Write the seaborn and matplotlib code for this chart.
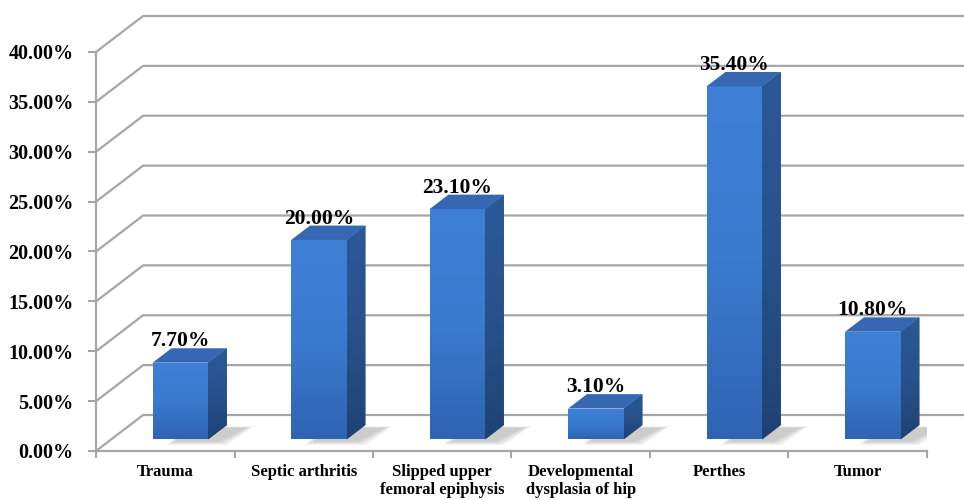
import numpy as np
import matplotlib
matplotlib.use("Agg")
import matplotlib.pyplot as plt
from matplotlib.patches import Polygon
from matplotlib.colors import LinearSegmentedColormap
import seaborn as sns

categories = ["Trauma", "Septic arthritis", "Slipped upper\nfemoral epiphysis",
              "Developmental\ndysplasia of hip", "Perthes", "Tumor"]
values = [7.7, 20.0, 23.1, 3.1, 35.4, 10.8]
value_labels = ["7.70%", "20.00%", "23.10%", "3.10%", "35.40%", "10.80%"]
y_ticks = [0, 5, 10, 15, 20, 25, 30, 35, 40]
y_tick_labels = ["0.00%", "5.00%", "10.00%", "15.00%", "20.00%",
                 "25.00%", "30.00%", "35.00%", "40.00%"]

sns.set_style("white")
plt.rcParams["font.family"] = ["Liberation Serif", "DejaVu Serif"]
plt.rcParams["text.color"] = "black"
plt.rcParams["xtick.color"] = "black"
plt.rcParams["ytick.color"] = "black"

fig = plt.figure(figsize=(9.64, 5), dpi=100)
ax = fig.add_axes([0.0996, 0.098, 0.862, 0.798])
ax.set_facecolor("none")

# fake 3D: floor depth in data units, bar sits between depth d0 and d1
DX, DY = 0.34, 3.61
d0, d1 = 0.32, 0.72
grid_col = "#a6a6a6"
front_col = "#3a78c9"
top_col = "#3567b2"
front_cmap = LinearSegmentedColormap.from_list("front", ["#2f64b2", "#3a7bcf", "#3d80d6"])
side_cmap = LinearSegmentedColormap.from_list("side", ["#1f4273", "#28528c", "#2b5897"])

# back wall + left wall gridlines
for v in y_ticks:
    ax.plot([-0.5, -0.5 + DX, 7], [v, v + DY, v + DY], color=grid_col,
            lw=1.6, clip_on=False, zorder=0, solid_joinstyle="miter")

sns.barplot(x=categories, y=values, color=front_col, saturation=1,
            width=0.4, ax=ax, zorder=4)

grad = np.linspace(0, 1, 64).reshape(-1, 1)
for p, lab in zip(list(ax.patches), value_labels):
    x0 = p.get_x() + d0 * DX
    w = p.get_width()
    h = p.get_height()
    y0 = d0 * DY
    p.set_x(x0)
    p.set_y(y0)
    p.set_edgecolor("none")
    bx = (d1 - d0) * DX
    by = (d1 - d0) * DY
    # soft shadow on the floor
    for k in range(6):
        e = 0.012 * k
        shadow = [(x0 + w * 0.4 - e, y0 - 0.2 - e * 6), (x0 + w + 0.08 + e, y0 - 0.2 - e * 6),
                  (x0 + w + bx + 0.14 + e, y0 + by * 0.8 + e * 3),
                  (x0 + w * 0.4 + bx - e, y0 + by * 0.8 + e * 3)]
        ax.add_patch(Polygon(shadow, closed=True, facecolor="#303030",
                             alpha=0.045, edgecolor="none", zorder=2))
    # front face gradient
    im = ax.imshow(grad, cmap=front_cmap, extent=[x0, x0 + w, y0, y0 + h],
                   origin="lower", aspect="auto", zorder=4.1, interpolation="bilinear")
    im.set_clip_path(p)
    side = Polygon([(x0 + w, y0), (x0 + w + bx, y0 + by), (x0 + w + bx, y0 + h + by),
                    (x0 + w, y0 + h)], closed=True, facecolor="#28528c",
                   edgecolor="none", zorder=4)
    ax.add_patch(side)
    im2 = ax.imshow(grad, cmap=side_cmap, extent=[x0 + w, x0 + w + bx, y0, y0 + h + by],
                    origin="lower", aspect="auto", zorder=4.1, interpolation="bilinear")
    im2.set_clip_path(side)
    top = [(x0, y0 + h), (x0 + w, y0 + h), (x0 + w + bx, y0 + h + by), (x0 + bx, y0 + h + by)]
    ax.add_patch(Polygon(top, closed=True, facecolor=top_col, edgecolor="none", zorder=4.2))
    ax.text(x0 + w / 2, y0 + h + by + 0.2, lab, ha="center", va="baseline",
            fontsize=15.5, fontweight="bold", zorder=5)

ax.set_xlim(-0.5, 5.5)
ax.set_ylim(0, 40)
ax.set_yticks(y_ticks, y_tick_labels)
ax.set_xticks(range(len(categories)), categories)
ax.set_xticks(np.arange(-0.5, len(categories), 1), minor=True)
ax.set_xlabel("")
ax.set_ylabel("")
for lbl in ax.get_xticklabels() + ax.get_yticklabels():
    lbl.set_fontweight("bold")
    lbl.set_color("black")

ax.tick_params(axis="x", which="major", bottom=True, length=0, pad=9, labelsize=12)
ax.tick_params(axis="x", which="minor", bottom=True, length=5, width=1.5, color=grid_col)
ax.tick_params(axis="y", left=True, length=6, width=1.5, color=grid_col, pad=10, labelsize=14.5)

for s in ["top", "right"]:
    ax.spines[s].set_visible(False)
for s in ["left", "bottom"]:
    ax.spines[s].set_color(grid_col)
    ax.spines[s].set_linewidth(1.6)
    ax.spines[s].set_zorder(1)

fig.savefig("out.png", dpi=100)
